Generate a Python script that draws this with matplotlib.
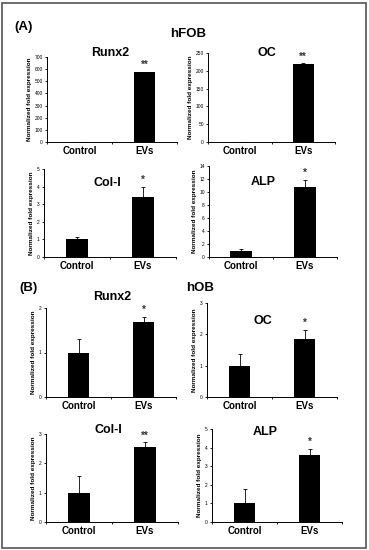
import matplotlib.pyplot as plt
from matplotlib.patches import Rectangle

plt.rcParams['font.family'] = ['Liberation Sans', 'DejaVu Sans']

categories = ['Control', 'EVs']

# hFOB
fob_runx2 = [1.0, 575]
fob_runx2_err = [0.2, 5]
fob_oc = [1.0, 219]
fob_oc_err = [0.1, 2]
fob_col1 = [1.0, 3.4]
fob_col1_err = [0.12, 0.6]
fob_alp = [1.0, 10.8]
fob_alp_err = [0.25, 1.1]

# hOB
ob_runx2 = [1.0, 1.68]
ob_runx2_err = [0.3, 0.12]
ob_oc = [1.0, 1.85]
ob_oc_err = [0.37, 0.3]
ob_col1 = [1.0, 2.55]
ob_col1_err = [0.58, 0.17]
ob_alp = [1.0, 3.6]
ob_alp_err = [0.75, 0.33]

W, H = 369, 550
fig = plt.figure(figsize=(W / 100, H / 100), dpi=100)


def px_axes(left, top, right, bottom):
    return fig.add_axes([left / W, 1 - bottom / H, (right - left) / W, (bottom - top) / H])


def panel(box, title, title_xy, vals, errs, star, ymax, ystep):
    ax = px_axes(*box)
    x = range(len(categories))
    ax.bar(x, vals, width=0.33, color='black', zorder=2)
    ax.errorbar(x, vals, yerr=[[0, 0], errs], fmt='none', ecolor='black',
                elinewidth=0.6, capsize=1.2, capthick=0.6, zorder=1)
    ax.set_xlim(-0.5, 1.5)
    ax.set_ylim(0, ymax)
    ticks = [i * ystep for i in range(int(round(ymax / ystep)) + 1)]
    ax.set_yticks(ticks)
    ax.set_yticklabels([str(t) for t in ticks], fontsize=3.5)
    ax.set_xticks([-0.5, 0.5, 1.5])
    ax.set_xticklabels([])
    ax.tick_params(axis='both', length=1.5, width=0.6, pad=1.5)
    for i, c in enumerate(categories):
        ax.text(i, -0.1, c, transform=ax.get_xaxis_transform(), ha='center', va='center',
                fontsize=7, fontweight='bold')
    for s in ['top', 'right']:
        ax.spines[s].set_visible(False)
    for s in ['left', 'bottom']:
        ax.spines[s].set_linewidth(0.7)
    ax.set_ylabel('Normalized fold expression', fontsize=4.6, fontweight='bold', labelpad=2)
    ax.text(1, vals[1] + errs[1] + ymax * 0.02, star, ha='center', va='bottom',
            fontsize=7, fontweight='bold', color='#333333')
    fig.text(title_xy[0] / W, 1 - title_xy[1] / H, title, ha='center', va='center',
             fontsize=9, fontweight='bold')
    return ax


panel((47, 57, 177, 142), 'Runx2', (110, 53), fob_runx2, fob_runx2_err, '**', 700, 100)
panel((208, 53, 335, 142), 'OC', (267, 53), fob_oc, fob_oc_err, '**', 250, 50)
panel((44, 169, 176, 257), 'Col-I', (107, 183), fob_col1, fob_col1_err, '*', 5, 1)
panel((209, 166, 337, 257), 'ALP', (263, 182), fob_alp, fob_alp_err, '*', 14, 2)

panel((46, 308, 176, 397), 'Runx2', (112, 297), ob_runx2, ob_runx2_err, '*', 2, 1)
panel((207, 303, 337, 397), 'OC', (263, 321), ob_oc, ob_oc_err, '*', 3, 1)
panel((46, 434, 178, 522), 'Col-I', (108, 430), ob_col1, ob_col1_err, '**', 3, 1)
panel((212, 429, 342, 522), 'ALP', (265, 432), ob_alp, ob_alp_err, '*', 5, 1)

fig.text(24 / W, 1 - 27 / H, '(A)', ha='center', va='center', fontsize=9.5, fontweight='bold')
fig.text(188 / W, 1 - 34 / H, 'hFOB', ha='center', va='center', fontsize=9.5, fontweight='bold')
fig.text(28 / W, 1 - 288 / H, '(B)', ha='center', va='center', fontsize=9.5, fontweight='bold')
fig.text(200 / W, 1 - 288 / H, 'hOB', ha='center', va='center', fontsize=9.5, fontweight='bold')

fig.patches.append(Rectangle((2 / W, 2 / H), (W - 5) / W, (H - 5) / H, transform=fig.transFigure,
                             fill=False, edgecolor='#555555', linewidth=1.2))

fig.savefig('out.png', dpi=100)
